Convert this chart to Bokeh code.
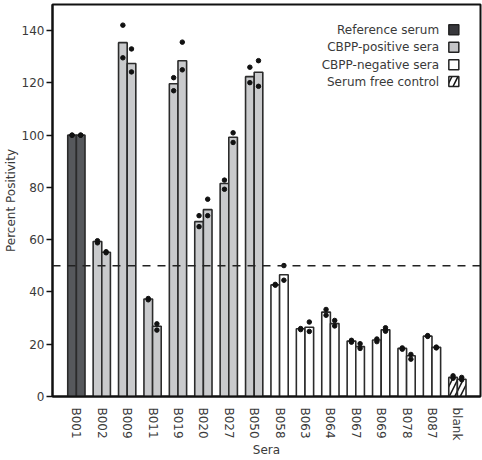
import numpy as np
from bokeh.plotting import figure
from bokeh.models import FixedTicker, Span, ColumnDataSource
from bokeh.core.properties import value
from bokeh.embed import file_html
from bokeh.resources import INLINE

# Sera tested, in plotting order
sera = ["B001", "B002", "B009", "B011", "B019", "B020", "B027", "B050",
        "B058", "B063", "B064", "B067", "B069", "B078", "B087", "blank"]
group = ["ref"] + ["pos"] * 7 + ["neg"] * 7 + ["ctrl"]

# Mean percent positivity of the two runs for each serum
run1_mean = [100.0, 59.3, 135.4, 37.3, 119.7, 66.9, 81.5, 122.4,
             42.7, 25.9, 32.3, 21.2, 21.6, 18.4, 23.1, 7.3]
run2_mean = [100.0, 55.2, 127.4, 26.9, 128.5, 71.5, 99.2, 124.1,
             46.6, 26.5, 27.9, 19.1, 25.5, 15.6, 18.8, 6.6]

# Individual replicate values (two per run)
run1_rep_a = [100.0, 59.6, 142.1, 37.5, 122.0, 69.2, 82.8, 126.0,
              42.9, 26.0, 33.3, 21.5, 22.0, 18.6, 23.3, 7.9]
run1_rep_b = [100.0, 58.8, 129.6, 37.0, 117.0, 65.0, 79.3, 120.1,
              42.6, 25.6, 31.1, 20.8, 21.0, 18.1, 23.0, 7.0]
run2_rep_a = [100.0, 55.4, 133.0, 27.8, 135.6, 75.5, 100.9, 128.5,
              50.1, 28.5, 29.1, 20.2, 26.3, 16.1, 18.9, 7.3]
run2_rep_b = [100.0, 55.0, 124.2, 25.4, 125.0, 69.2, 97.2, 118.7,
              44.5, 24.9, 27.0, 18.4, 25.0, 14.3, 18.6, 6.4]

cutoff = 50
y_ticks = [0, 20, 40, 60, 80, 100, 120, 140]

legend_labels = ["Reference serum", "CBPP-positive sera",
                 "CBPP-negative sera", "Serum free control"]

fills = {"ref": "#56585c", "pos": "#c9cacc", "neg": "#ffffff", "ctrl": "#ffffff"}
legend_fills = ["#38383c", "#c4c4c6", "#ffffff", "#ffffff"]
hatches = {"ref": " ", "pos": " ", "neg": " ", "ctrl": "/"}
edge = "#2b2b2b"
text_col = "#3a3a3a"
font = "DejaVu Sans"
fsize = "12px"

p = figure(width=482, height=460, output_backend="svg", toolbar_location=None,
           x_range=(-0.94, 15.91), y_range=(0, 150),
           min_border_left=50, min_border_right=2, min_border_top=4,
           min_border_bottom=63)
p.background_fill_color = "white"
p.border_fill_color = "white"
p.xgrid.visible = False
p.ygrid.visible = False
p.outline_line_color = "#111111"
p.outline_line_width = 2

idx = np.arange(len(sera))
half = 0.17
bw = 0.34

for mean, off in ((run1_mean, -half), (run2_mean, half)):
    src = ColumnDataSource(dict(
        x=idx + off, top=mean,
        fill=[fills[g] for g in group],
        hatch=[hatches[g] for g in group]))
    p.vbar(x="x", top="top", width=bw, bottom=0, source=src,
           fill_color="fill", line_color=edge, line_width=1.6,
           hatch_pattern="hatch", hatch_color="#1a1a1a", hatch_scale=11,
           hatch_weight=1.6)

for reps, off in ((run1_rep_a, -half), (run1_rep_b, -half),
                  (run2_rep_a, half), (run2_rep_b, half)):
    p.scatter(idx + off, reps, size=4.5, color="#111111")

p.add_layout(Span(location=cutoff, dimension="width", line_color="#222222",
                  line_dash="8 7", line_width=1.5))

# Legend: text on the left, swatch on the right
leg_y = [140.3, 133.6, 126.9, 120.5]
leg_text_x = 14.28
leg_box_x = 14.86
p.text(x=[leg_text_x] * 4, y=leg_y, text=legend_labels, text_align="right",
       text_baseline="middle", text_font=value(font), text_font_size=fsize,
       text_color=text_col)
p.rect(x=[leg_box_x] * 4, y=leg_y, width=10, height=10, width_units="screen",
       height_units="screen", fill_color=legend_fills, line_color="#222222",
       line_width=1.5, hatch_pattern=[" ", " ", " ", "/"], hatch_color="#111111",
       hatch_scale=12, hatch_weight=1.5)

# Axes
p.xaxis.ticker = FixedTicker(ticks=list(idx))
p.xaxis.major_label_overrides = {int(i): s for i, s in enumerate(sera)}
p.xaxis.major_label_orientation = "vertical"
p.xaxis.minor_tick_line_color = None
p.xaxis.major_label_standoff = 5
p.xaxis.axis_label = "Sera"

p.yaxis.ticker = FixedTicker(ticks=y_ticks)
p.yaxis.minor_tick_line_color = None
p.yaxis.major_tick_out = 6
p.yaxis.major_tick_in = 0
p.yaxis.major_tick_line_width = 1.5
p.yaxis.major_label_standoff = 2
p.yaxis.axis_label = "Percent Positivity"

for ax in (p.xaxis, p.yaxis):
    ax.axis_line_width = 2
    ax.axis_line_color = "#111111"
    ax.major_label_text_font = font
    ax.major_label_text_font_size = fsize
    ax.major_label_text_color = text_col
    ax.axis_label_text_font = font
    ax.axis_label_text_font_size = fsize
    ax.axis_label_text_font_style = "normal"
    ax.axis_label_text_color = text_col
p.xaxis.major_tick_line_color = None
p.yaxis.major_tick_line_color = "#111111"
p.xaxis.axis_label_standoff = 0
p.yaxis.axis_label_standoff = 1

open("out.html", "w").write(file_html(p, INLINE))
